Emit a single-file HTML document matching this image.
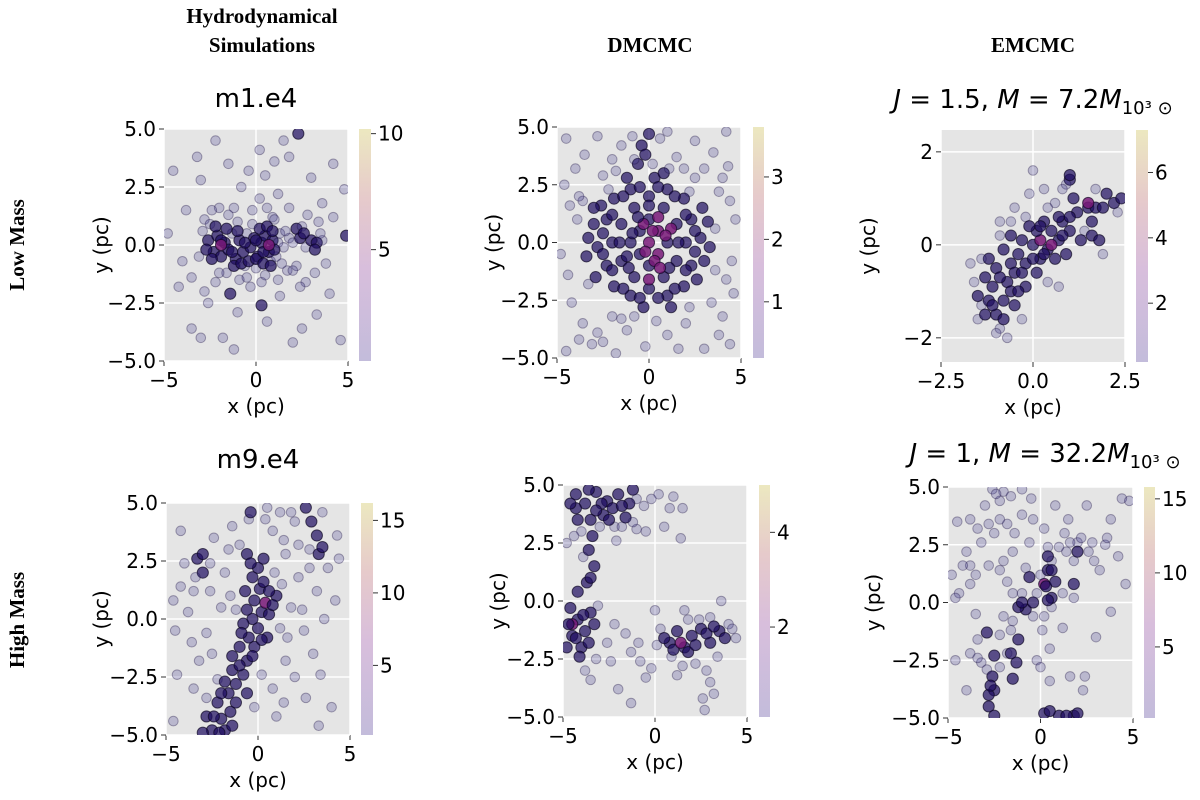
<!DOCTYPE html>
<html><head><meta charset="utf-8"><style>
body{margin:0;background:#fff;width:1200px;height:800px;overflow:hidden}
svg{display:block}
text{font-family:"DejaVu Sans","Liberation Sans",sans-serif;fill:#000}
.hdr{font-family:"Liberation Serif","DejaVu Serif",serif;font-weight:bold;font-size:21px}
.tick{font-size:20px}
.lab{font-size:20px}
.ttl{font-size:26px}
</style></head><body>
<svg id="fig" width="1200" height="800">
<defs>
<linearGradient id="cb" x1="0" y1="1" x2="0" y2="0">
<stop offset="0" stop-color="#c3bcdb"/><stop offset="0.4" stop-color="#d8bedc"/>
<stop offset="0.7" stop-color="#e6cacb"/><stop offset="1" stop-color="#ece8c0"/>
</linearGradient>
</defs>
<text class="hdr" x="262" y="23" text-anchor="middle">Hydrodynamical</text>
<text class="hdr" x="262" y="52" text-anchor="middle">Simulations</text>
<text class="hdr" x="650" y="52" text-anchor="middle">DMCMC</text>
<text class="hdr" x="1033" y="52" text-anchor="middle">EMCMC</text>
<text class="hdr" transform="translate(24,245) rotate(-90)" text-anchor="middle">Low Mass</text>
<text class="hdr" transform="translate(24,620) rotate(-90)" text-anchor="middle">High Mass</text>
<text class="ttl" x="256" y="107" text-anchor="middle">m1.e4</text>
<text class="ttl" x="258" y="468" text-anchor="middle">m9.e4</text>
<text class="ttl" x="1033" y="108" text-anchor="middle"><tspan font-style="italic">J</tspan> = 1.5, <tspan font-style="italic">M</tspan> = 7.2<tspan font-style="italic">M</tspan><tspan font-size="18" dy="6">10³ ⊙</tspan></text>
<text class="ttl" x="1045" y="462" text-anchor="middle"><tspan font-style="italic">J</tspan> = 1, <tspan font-style="italic">M</tspan> = 32.2<tspan font-style="italic">M</tspan><tspan font-size="18" dy="6">10³ ⊙</tspan></text>
</svg>
<script>
// point data: [x, y, weight] weight 0 = faint, 1 = dense/dark, 2 = hot (colored)
const p1pts=[[-4.5,3.2,0],[-3.8,1.5,0],[-3,2.8,0],[-2.2,4.5,0],[-1.5,3.5,0],[-0.8,2.5,0],[0.2,4.1,0],[0.5,3,0],[1.2,2.2,0],[1.8,3.8,0],[2.3,4.8,1],[3,2.9,0],[3.6,1.8,0],[4.2,3.5,0],[4.8,2.4,0],[-4.2,-1.8,0],[-3.5,-3.6,0],[-2.6,-2.5,0],[-1.8,-4,0],[-1,-2.9,0],[-0.3,-1.8,0],[0.6,-3.3,0],[1.3,-2.2,0],[2,-4.2,0],[2.7,-1.6,0],[3.3,-3,0],[4,-2.1,0],[4.6,-4.1,0],[-4.8,0.5,0],[4.9,0.4,1],[-0.2,1.5,0],[0.9,1.2,0],[-2.8,1.1,0],[2.2,-0.9,0],[-4,-0.7,0],[3.8,-0.8,0],[1.5,4.5,0],[-1.2,-4.5,0],[0.3,-2.6,1],[-3.2,3.8,0],[2.8,1.3,0],[-2,1.6,0],[-1.4,-2.1,1],[0.8,-0.7,0],[-0.6,-0.9,0],[1.7,-1.1,0],[-3.5,-1.4,0],[-2.8,-2,0],[-2.2,-1.6,0],[-1.6,-1.2,0],[-0.9,-1.5,0],[0.3,-1.6,0],[1.2,-1.5,0],[2.4,-1.8,0],[3.2,-1.2,0],[-2.4,1.5,0],[-1.2,1.6,0],[0.2,2,0],[0.6,1.6,0],[1.8,1.6,0],[3.4,1,0],[4.2,1.2,0],[-3,-4,0],[2.5,-3.6,0],[-0.4,3.2,0],[1,3.6,0],
[-2.6,0.2,1],[-2.3,-0.3,1],[-2.1,0.4,1],[-1.9,-0.5,1],[-1.7,0.1,1],[-1.5,-0.2,1],[-1.3,0.5,0],[-1.1,-0.6,1],[-0.9,0.2,1],[-0.7,-0.3,1],[-0.5,0.5,0],[-0.3,-0.1,1],[-0.1,0.3,1],[0.1,-0.5,1],[0.3,0.1,1],[0.5,0.4,1],[0.7,-0.3,1],[0.9,0.2,1],[1.1,-0.5,0],[1.3,0.5,0],[1.5,-0.1,0],[1.8,0.3,0],[2.2,0.7,1],[2.4,0.3,1],[2.7,-0.1,0],[3,0.2,1],[3.3,0.1,1],[3.6,0.2,0],[-2,-1.2,0],[-1,1,0],[0,-1,0],[1,1.1,0],[2,-1.1,0],[-1.5,1.3,0],[0.5,-1.3,0],[-2.5,0.9,0],[2.5,0.8,0],[-0.5,-1.4,0],
[-2.4,-0.6,1],[-2.2,0.8,1],[-1.6,0.7,1],[-1.2,-0.9,1],[-0.8,-0.8,1],[-0.4,-0.7,1],[0,-0.6,1],[0.4,-0.8,1],[0.8,-0.9,1],[1.2,0.1,0],[0.2,0.7,1],[-0.2,0.9,0],[0.6,0.8,1],[-0.6,0.1,1],[-1.3,-0.3,1],[-1.9,0.2,1],[-2.7,-0.2,1],[2.6,0.5,1],[3.2,-0.2,1],[3.5,0.5,0],[2,0.1,0],[1.6,0.6,0],[1,-0.2,1],[0.4,-0.3,1],[-2.9,0.6,0],[-3.1,-0.5,0],[1.4,-0.8,0],[-1,0.6,1],[0,0.2,1],[0.9,0.6,1],[-1.9,0,2],[0.7,0,2]];
const p2pts=[[0,0,2],[0.5,0.5,2],[-0.5,0.5,1],[0.5,-0.5,2],[-0.5,-0.5,1],[1,0,1],[-1,0,1],[0,1,1],[0,-1,1],[1.5,0.8,1],[-1.5,0.8,1],[1.5,-0.8,1],[-1.5,-0.8,1],[0.8,1.5,1],[-0.8,1.5,1],[0.8,-1.5,1],[-0.8,-1.5,1],[2,0,1],[-2,0,1],[0,2,1],[0,-2,1],[2.3,1,1],[-2.3,1,1],[2.3,-1,1],[-2.3,-1,1],[1,2.3,1],[-1,2.3,1],[1,-2.3,1],[-1,-2.3,1],[2.8,0.2,1],[-2.8,-0.2,1],[0.3,2.8,1],[-0.3,-2.8,1],[1.9,1.9,1],[-1.9,1.9,1],[1.9,-1.9,1],[-1.9,-1.9,1],[3,-0.8,1],[-3,0.8,1],[2.6,-1.6,1],[-2.6,1.6,1],[1.2,0.6,2],[-1.2,-0.6,1],[0.3,-0.8,2],[-0.3,0.8,2],[3.2,0.9,1],[-3.4,-0.6,1],[-0.6,3.4,1],[-0.4,4.2,1],[0,4.7,1],[-0.2,3.8,1],
[0.5,1.1,2],[-0.6,1.1,1],[1.1,-1.1,1],[-1.1,-1.1,1],[1.6,0,1],[-1.6,0,1],[0,1.6,1],[0,-1.6,2],[2.5,0.5,1],[-2.5,-0.5,1],[2.5,-0.4,1],[-2.5,0.4,1],[1.4,2,1],[-1.4,2,1],[1.4,-2,1],[-1.4,-2,1],[2,1.2,1],[-2,1.2,1],[2,-1.2,1],[-2,-1.2,1],[0.5,2.4,1],[-0.5,2.4,1],[0.5,-2.4,1],[-0.5,-2.4,1],[3.3,-0.2,1],[-3.3,0.2,1],[2.9,1.5,1],[-2.9,-1.5,1],[1.2,-2.8,1],[-1.2,2.8,1],[0.8,3,1],[-3,1.5,1],[3.6,-1.2,0],[-3.6,1.8,0],[0.9,0.3,2],[-0.9,0.4,1],[0.2,0.5,2],[-0.2,-0.4,2],[0.6,-1.1,2],
[-4.5,4.5,0],[-3.5,3.8,0],[-2.8,4.6,0],[-1.5,4.2,0],[-0.8,3.6,0],[0.6,4.5,0],[1.5,3.7,0],[2.5,4.4,0],[3.5,3.9,0],[4.3,3.3,0],[-4.6,2.5,0],[-3.8,2,0],[3.8,2.2,0],[4.7,1,0],[-4.8,-0.5,0],[4.5,-0.8,0],[-4.2,-2.6,0],[-3.6,-3.5,0],[-2.5,-4.3,0],[-1.2,-3.8,0],[-0.2,-4.5,0],[1,-4,0],[2,-3.5,0],[3,-4.6,0],[4,-3.2,0],[4.6,-2.2,0],[-4.5,-4.7,0],[2.5,2.8,0],[-2.5,2.9,0],[3.4,-2.6,0],[-3.3,-1.8,0],[1.1,3.2,0],[-1.5,-3.3,0],[0.2,3.4,0],[4.2,4.8,0],[-3.9,1,0],[3.6,0.6,0],[-2.8,-3.9,0],[-3.1,-4.4,0],[4.4,-4.4,0],[-1.8,3.1,0],[-4,3.2,0],[-2,3.6,0],[1.9,3.2,0],[3,3.2,0],[4,2.8,0],[4.4,1.8,0],[-4.3,1.6,0],[-4.4,-1.4,0],[4.2,-1.6,0],[-2,-3.2,0],[2.2,-2.8,0],[0.4,-3.4,0],[-0.8,-3.2,0],[1.6,-4.6,0],[-1.8,-4.8,0],[3.8,-4,0],[-3.8,-4.2,0],[-0.9,4.6,0],[1,4.8,0],[-2.2,2.3,0],[2.2,2.2,0]];
const p3pts=[[-1,-1.5,1],[-0.8,-1.2,1],[-1.1,-0.9,1],[-0.7,-0.8,1],[-1,-0.5,1],[-0.6,-0.4,1],[-0.8,-0.1,1],[-0.5,-0.6,1],[-0.4,-0.2,1],[-0.3,0.1,1],[-0.6,0.2,1],[-0.2,-0.4,1],[0,0,1],[0.2,0.1,2],[0.4,-0.1,1],[0.1,0.3,1],[0.5,0.3,1],[0.7,0.1,1],[0.3,0.5,1],[0.8,0.5,1],[1,0.3,1],[1.2,0.7,1],[1.1,1,1],[1,1.4,1],[1.5,0.8,1],[1.7,0.8,1],[1.9,0.8,1],[2.2,0.9,1],[2.4,1,1],[-0.5,-1.3,1],[-0.2,-0.9,1],[0.1,-0.6,1],[-1.3,-0.7,1],[-0.9,-1.8,0],[-0.3,-1.6,0],[0.6,0.9,0],[0.9,1.3,0],[0.4,0.8,0],[-0.2,0.6,0],[1.4,0.3,0],[0.9,-0.2,1],[-1.2,-1.2,1],[-0.6,0.5,0],[1,1.5,1],[0.2,-0.3,1],[1.6,0.2,1],[1.8,0.1,1],[1.5,0.9,2],[-1.6,-0.8,0],[-1.4,-1.3,0],[0,1.6,0],[0.7,-0.9,0],[0.4,-0.8,0],[-0.9,0.5,0],
[-1.2,-0.3,1],[-0.9,-0.7,1],[-1.1,-1.3,1],[-0.6,-1,1],[-0.3,-0.6,1],[0,-0.3,1],[0.3,-0.2,1],[0.6,-0.3,1],[0.5,0,2],[0.2,0.4,1],[-0.1,0.4,1],[0.8,0.2,1],[1,0.6,1],[0.7,0.6,1],[-0.8,-1.6,1],[-1,-1.9,0],[-0.7,-2,0],[-1.5,-1.6,0],[-1.4,-0.3,0],[-0.9,0.2,0],[-0.5,0.8,0],[-0.1,1.1,0],[0.3,1.2,0],[1.3,0.1,1],[2,1.1,1],[2.3,0.7,0],[1.6,0.5,1],[1.9,-0.2,0],[0.8,1.2,0],[1.7,1.2,0],[-1.7,-0.4,0],[-1.5,-1.1,1],[-0.4,-1,1],[-1.3,-1.5,1]];
const p4pts=[[-2.5,-4.8,1],[-2,-4.3,1],[-1.5,-4,1],[-2.2,-3.6,1],[-1.6,-3.2,1],[-1.2,-2.8,1],[-0.8,-2.4,1],[-1.4,-2.2,1],[-0.6,-1.8,1],[-0.2,-1.2,1],[-0.5,-0.8,1],[0,-0.4,1],[-0.3,0,1],[0.2,0.3,1],[0.4,0.7,2],[-0.2,0.8,1],[0.1,1.3,1],[-0.3,1.8,1],[0,2.2,1],[0.3,1.6,1],[0.6,0.2,1],[-0.8,-0.2,1],[-1,-1.2,1],[0.5,-0.8,1],[1,1,1],[-2.8,-4.2,1],[-1.8,-4.8,1],[3.3,2.8,1],[2.8,3,0],[3.2,3.6,1],[2,4.2,0],[1.2,4.6,0],[0.8,3.8,0],[1.5,2.8,0],[2.2,1.8,0],[1.8,0.5,0],[2.5,-0.5,0],[3,-1.5,0],[2,-2.5,0],[1.5,-1.8,0],[-3.3,2.6,1],[-3,2,1],[-3.5,1.2,0],[-4,2.4,0],[-4.5,-0.5,0],[-3.6,-1,0],[-2.5,-1.5,0],[-2,0.5,0],[-1.8,2,0],[-1,3.2,0],[-0.5,4.3,0],[0.5,4.8,0],[3.8,2.2,0],[4.2,0.8,0],[4,-3.8,0],[3.3,-4.6,0],[1,-4.2,0],[-3.5,-3,0],[-4.6,-4.4,0],[-4.2,3.8,0],[3.5,4.6,0],[1.2,-0.4,0],[-0.6,2.8,1],[2.8,2.2,0],[-0.4,4.6,1],[2.6,4.8,1],[-2.6,1.2,0],[1.4,3.4,0],[-2.2,-2.6,0],[0.8,-3,0],[3.6,0,0],[-4.2,1.4,0],
[-0.6,0.4,1],[-0.7,1.2,1],[-0.4,2.4,1],[0.3,2.6,1],[0.6,1.2,1],[0.8,0.6,1],[0.2,-0.9,1],[-0.3,-1.6,1],[-1,-2,1],[-1.8,-2.7,1],[-2,-3.2,1],[-2.4,-4.2,1],[-2.1,-4.9,1],[-1.2,-3.6,1],[-0.6,-3.2,1],[-0.9,-0.6,1],[-1.2,0.4,0],[0.9,2,0],[1.3,1.5,0],[-1.4,-1.6,1],[-2.8,-3.4,0],[-3,-4.9,1],[-1.4,-4.6,1],[2.9,4.2,1],[3.5,3.1,1],[-3,2.8,1],[-3.4,1.8,0],[-2.6,2.4,0],[2.2,3.2,0],[1.8,4.6,0],[0.4,4.3,0],[-1.4,4,0],[-2.4,3.5,0],[-3.8,0.3,0],[-3.2,-1.8,0],[-2.8,-0.6,0],[1.6,-0.8,0],[2.4,0.4,0],[3.2,1.2,0],[4.3,3.6,0],[4.4,2.6,0],[3.4,-2.4,0],[2.6,-3.4,0],[0.2,-2.4,0],[-0.2,-3.8,0],[1.4,-3.6,0],[-4.6,0.8,0],[-4.4,-2.4,0],[-1.5,1,0],[-1.6,3,0]];
const p5pts=[[-4.3,4.6,1],[-3.8,4.2,1],[-3.2,4.7,1],[-2.6,4.3,1],[-2,4.6,1],[-1.4,4.2,1],[-3.5,3.5,1],[-2.8,3.7,1],[-2.2,3.2,0],[-1.6,3.6,1],[-1,4.4,0],[-0.5,3,0],[-4,3,0],[-3.6,2.2,1],[-3.3,1.5,1],[-3.7,0.8,1],[-4.6,-0.3,1],[-4.2,-0.8,1],[-3.8,-1.3,1],[-4.5,-1.5,1],[-3.5,-0.5,1],[-4,-2,1],[-3.2,-2.5,0],[-2.6,-1.8,0],[-2.2,-1,0],[-1.6,-1.4,0],[-0.8,-2.6,0],[-0.5,-3.3,0],[0.3,-1.2,0],[0.8,-1.8,1],[1.2,-1.3,1],[1.6,-2,1],[2,-1.5,1],[2.5,-1.2,1],[3,-1.8,1],[3.5,-1.3,1],[4,-1,0],[4.4,-1.6,0],[2.8,-3,0],[3.2,-4,0],[1.5,-2.8,0],[-2,-3.8,0],[-1.3,-4.4,0],[1.8,-0.8,0],[0.9,-2.4,0],[-4.3,4,1],[-3,3.2,0],[0.2,4.6,0],[1,4.5,0],[0.5,3.2,0],[1.5,4,0],[-4.8,2.5,0],[2.7,-4.7,0],[3.6,0,0],[0,-0.4,0],[-4.5,-1,2],[-3.9,-0.6,1],[-1,3.1,0],[1.4,2.7,0],
[-4.6,4.2,1],[-3.6,4.8,1],[-2.9,4.2,1],[-2.3,4,1],[-1.8,4.1,1],[-1.2,4.8,1],[-0.6,4.1,0],[-4.2,3.5,1],[-3.2,3.9,1],[-2.5,3.5,1],[-1.8,3.2,0],[-1.2,3.4,0],[-0.2,4.4,0],[-4.4,2.8,0],[-3.4,2.8,1],[-3.9,1.9,0],[-3.5,1,1],[-4.2,0.4,1],[-4.7,-1,1],[-4.3,-1.6,1],[-4.1,-2.4,1],[-3.6,-1.8,1],[-3.3,-1,1],[-3.1,-0.2,0],[-4.8,-2,1],[-3.8,-3,0],[-3.5,-3.4,0],[-2.4,-2.6,0],[-1.3,-2.2,0],[-0.2,-2.9,0],[0.5,-1.6,1],[1,-2.1,1],[1.4,-1.8,2],[1.8,-2.2,1],[2.2,-1.9,1],[2.8,-1.4,1],[3.2,-1.1,1],[3.8,-1.6,1],[4.2,-1.2,0],[0.1,-1.9,0],[2.4,-0.8,0],[3,-0.7,0],[3.4,-2.4,0],[2.2,-2.7,0],[3,-3.5,0],[2.6,-4.2,0],[1.2,-3.2,0],[-0.9,-1.8,0],[1.6,-0.4,0],[0.8,4,0],[-2.1,2.6,0]];
const p6pts=[[-2.8,-4.5,1],[-2.5,-3.8,1],[-2.6,-3.2,1],[-2.5,-2.3,1],[-1.8,-2.2,0],[-1.2,-1.6,1],[-1.5,-0.8,0],[-0.8,-0.3,1],[-0.4,0,1],[0.2,0.8,2],[0.3,0.7,1],[0.6,0.2,1],[0.8,0.9,1],[0.4,1.4,1],[1.8,1.8,0],[2,2.6,0],[2.6,2.2,0],[-2.9,-1.3,1],[0.2,-4.8,1],[1.8,-4.9,1],[1,-4.9,1],[-1.5,-3.3,1],[-1.2,-0.2,1],[-0.6,1.1,1],[-2.8,-4,1],[1.8,0.8,1],
[-4.5,3.5,0],[-4,2.2,0],[-3.5,1.2,0],[-3,4.2,0],[-2.5,3,0],[-2,4.8,0],[-1.5,2.2,0],[-1,3.8,0],[-0.5,4.5,0],[0.2,3.2,0],[0.8,4.2,0],[1.5,3.6,0],[2.5,4.2,0],[3.5,2.5,0],[4.2,2,0],[4.6,0.8,0],[3.8,-0.4,0],[3,-1.5,0],[2.4,-3.2,0],[-4.6,-2.5,0],[-4,-3.8,0],[-3.5,-0.5,0],[-4.4,0.4,0],[-0.2,-2.5,0],[0.5,-3.4,0],[1.8,0.2,0],[3.2,1.4,0],[-2.2,1.4,0],[-0.8,1.5,0],[0.6,1.8,0],[4.4,4.5,0],[-2.6,4.9,0],[-3.8,1.6,0],[-1.5,0.4,0],[-2,-0.6,0],[1.2,-1.1,0],[0.1,-1.2,0],[-3.2,2.6,0],[-1.8,3.4,0],[-0.6,2.6,0],[2.9,1.8,0],[1.3,3,0],[-4.8,1.2,0],[-3.2,-2.6,0],[-1,4.9,0],[2.3,-3.8,0],
[-2.2,4.4,0],[-1.6,4.6,0],[-2.4,4.7,0],[-3.8,3.6,0],[-3.4,3.2,0],[-2.8,3.4,0],[-2.2,3.6,0],[-1.4,3,0],[-0.4,3.6,0],[0.4,2.4,0],[1,2.4,0],[1.4,2.2,0],[2,2.2,1],[2.2,2.8,0],[1.6,2.6,0],[2.8,2.6,0],[3.6,2.8,0],[-4.2,1.6,0],[-3.8,0.8,0],[-4.6,0.2,0],[-2.8,1.6,0],[-2,1.8,0],[-1.8,0.9,0],[-1,0.4,0],[-0.2,0.4,0],[0,1.2,0],[-0.4,-0.6,0],[0.2,-0.6,0],[0.6,-0.2,0],[1.2,0.4,0],[-1.6,-1.2,0],[-2.2,-1.4,0],[-3.4,-1.6,0],[-3.8,-2.2,0],[-2.2,-2.8,0],[-2.9,-2.9,0],[-3.4,-2.4,0],[-1.3,-2.6,1],[-1.6,-2.2,1],[0.4,0.1,1],[-1,0,1],[0.5,-2,0],[0,-2.8,0],[1.6,-3.2,0],[2,-4.8,1],[1.4,-4.9,1],[0.5,-4.7,1],[-2.7,-3.6,1],[-2.5,-4.9,1],[0.4,2,1],[0.6,1.4,1],[4.8,4.4,0],[3.8,3.6,0]];
// tick label arrays
const t1x=[-5,0,5], t1y=[-5,-2.5,0,2.5,5], c1=[5,10];
const t2x=[-5,0,5], t2y=[-5,-2.5,0,2.5,5], c2=[1,2,3];
const t3x=[-2.5,0,2.5], t3y=[-2,0,2], c3=[2,4,6];
const t4x=[-5,0,5], t4y=[-5,-2.5,0,2.5,5], c4=[5,10,15];
const t5x=[-5,0,5], t5y=[-5,-2.5,0,2.5,5], c5=[2,4];
const t6x=[-5,0,5], t6y=[-5,-2.5,0,2.5,5], c6=[5,10,15];

const NS='http://www.w3.org/2000/svg';
const fig=document.getElementById('fig');
function mk(tag,attrs,parent){const e=document.createElementNS(NS,tag);for(const k in attrs)e.setAttribute(k,attrs[k]);(parent||fig).appendChild(e);return e;}
function fmt(v,dec){return (v<0?'\u2212':'')+Math.abs(v).toFixed(dec);}

function panel(id,box,xd,yd,pts,tx,ty,xdec,dec,cb,cmin,cmax,cticks,yl){
  const g=mk('g',{});
  
  
  const sx=v=>box.x0+(v-xd[0])/(xd[1]-xd[0])*(box.x1-box.x0);
  const sy=v=>box.y1-(v-yd[0])/(yd[1]-yd[0])*(box.y1-box.y0);
  const bg=mk('rect',{x:box.x0,y:box.y0,width:box.x1-box.x0,height:box.y1-box.y0,fill:'#e5e5e5'},g);
  
  
  tx.forEach(v=>{mk('line',{x1:sx(v),x2:sx(v),y1:box.y0,y2:box.y1,stroke:'#fff','stroke-width':1.5},g);
    mk('line',{x1:sx(v),x2:sx(v),y1:box.y1,y2:box.y1+5,stroke:'#333'},g);
    const t=mk('text',{x:sx(v),y:box.y1+26,'text-anchor':'middle',class:'tick'},g);t.textContent=fmt(v,xdec);
    
    });
  ty.forEach(v=>{mk('line',{y1:sy(v),y2:sy(v),x1:box.x0,x2:box.x1,stroke:'#fff','stroke-width':1.5},g);
    mk('line',{y1:sy(v),y2:sy(v),x1:box.x0-5,x2:box.x0,stroke:'#333'},g);
    const t=mk('text',{x:box.x0-8,y:sy(v)+7,'text-anchor':'end',class:'tick'},g);t.textContent=fmt(v,dec);
    
    });
  const clip='clip-'+id;
  const cp=mk('clipPath',{id:clip},g);
  mk('rect',{x:box.x0,y:box.y0,width:box.x1-box.x0,height:box.y1-box.y0},cp);
  const pg=mk('g',{'clip-path':'url(#'+clip+')'},g);
  pts.forEach(p=>{
    const w=p[2]||0;
    const fill=w===2?'rgba(120,25,120,0.85)':(w===1?'rgba(28,12,95,0.7)':'rgba(60,50,140,0.25)');
    const st=w===0?'rgba(20,10,60,0.35)':'rgba(10,5,30,0.65)';
    const c=mk('circle',{cx:sx(p[0]),cy:sy(p[1]),r:w===0?4.8:5.6,fill:fill,stroke:st,'stroke-width':1},pg);
    
    
  });
  const xl=mk('text',{x:(box.x0+box.x1)/2,y:box.y1+52,'text-anchor':'middle',class:'lab'},g);xl.textContent='x (pc)';
  
  
  const ylt=mk('text',{transform:`translate(${yl},${(box.y0+box.y1)/2}) rotate(-90)`,'text-anchor':'middle',class:'lab'},g);ylt.textContent='y (pc)';
  
  
  const cr=mk('rect',{x:cb.x0,y:cb.y0,width:cb.x1-cb.x0,height:cb.y1-cb.y0,fill:'url(#cb)'},g);
  
  
  const cy=v=>cb.y1-(v-cmin)/(cmax-cmin)*(cb.y1-cb.y0);
  cticks.forEach(v=>{mk('line',{x1:cb.x1,x2:cb.x1+5,y1:cy(v),y2:cy(v),stroke:'#333'},g);
    const t=mk('text',{x:cb.x1+7,y:cy(v)+7,class:'tick'},g);t.textContent=String(v);
    
    });
}
panel('hydro-low',{x0:164,x1:348,y0:129,y1:361},[-5,5],[-5,5],p1pts,t1x,t1y,0,1,{x0:359,x1:371,y0:129,y1:361},0.2,10.2,c1,108);
panel('dmcmc-low',{x0:557,x1:741,y0:127,y1:358},[-5,5],[-5,5],p2pts,t2x,t2y,0,1,{x0:753,x1:764,y0:127,y1:358},0.1,3.8,c2,500);
panel('emcmc-low',{x0:941,x1:1125,y0:130,y1:362},[-2.5,2.5],[-2.52,2.47],p3pts,t3x,t3y,1,0,{x0:1136,x1:1148,y0:130,y1:362},0.2,7.3,c3,875);
panel('hydro-high',{x0:166,x1:350,y0:503,y1:735},[-5,5],[-5,5],p4pts,t4x,t4y,0,1,{x0:361,x1:373,y0:503,y1:735},0.2,16.2,c4,108);
panel('dmcmc-high',{x0:563,x1:747,y0:485,y1:717},[-5,5],[-5,5],p5pts,t5x,t5y,0,1,{x0:759,x1:770,y0:485,y1:717},0.1,5.0,c5,505);
panel('emcmc-high',{x0:948,x1:1133,y0:487,y1:718},[-5,5],[-5,5],p6pts,t6x,t6y,0,1,{x0:1144,x1:1155,y0:487,y1:718},0.2,15.8,c6,880);
</script>
</body></html>
